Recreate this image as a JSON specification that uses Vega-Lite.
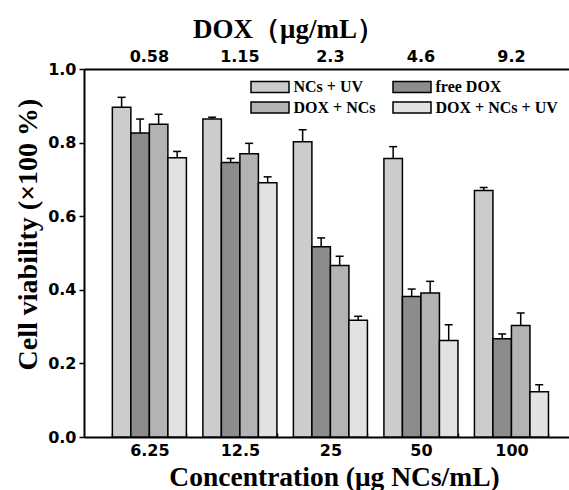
{
  "$schema": "https://vega.github.io/schema/vega-lite/v6.json",
  "width": 485,
  "height": 368,
  "autosize": "none",
  "padding": {"left": 84, "top": 69, "right": 0, "bottom": 53},
  "background": "white",
  "config": {
    "view": {"stroke": null},
    "axis": {
      "domainColor": "black",
      "domainWidth": 2,
      "tickColor": "black",
      "tickWidth": 1.5,
      "labelColor": "black",
      "titleColor": "black",
      "grid": false
    }
  },
  "data": {
    "values": [
      {"conc": "6.25", "group": "NCs + UV", "value": 0.896, "upper": 0.923},
      {"conc": "6.25", "group": "free DOX", "value": 0.826, "upper": 0.864},
      {"conc": "6.25", "group": "DOX + NCs", "value": 0.850, "upper": 0.877},
      {"conc": "6.25", "group": "DOX + NCs + UV", "value": 0.759, "upper": 0.776},
      {"conc": "12.5", "group": "NCs + UV", "value": 0.864, "upper": 0.869},
      {"conc": "12.5", "group": "free DOX", "value": 0.746, "upper": 0.757},
      {"conc": "12.5", "group": "DOX + NCs", "value": 0.770, "upper": 0.798},
      {"conc": "12.5", "group": "DOX + NCs + UV", "value": 0.691, "upper": 0.707},
      {"conc": "25", "group": "NCs + UV", "value": 0.802, "upper": 0.835},
      {"conc": "25", "group": "free DOX", "value": 0.517, "upper": 0.541},
      {"conc": "25", "group": "DOX + NCs", "value": 0.466, "upper": 0.491},
      {"conc": "25", "group": "DOX + NCs + UV", "value": 0.317, "upper": 0.328},
      {"conc": "50", "group": "NCs + UV", "value": 0.757, "upper": 0.789},
      {"conc": "50", "group": "free DOX", "value": 0.382, "upper": 0.402},
      {"conc": "50", "group": "DOX + NCs", "value": 0.391, "upper": 0.423},
      {"conc": "50", "group": "DOX + NCs + UV", "value": 0.262, "upper": 0.305},
      {"conc": "100", "group": "NCs + UV", "value": 0.670, "upper": 0.678},
      {"conc": "100", "group": "free DOX", "value": 0.267, "upper": 0.280},
      {"conc": "100", "group": "DOX + NCs", "value": 0.303, "upper": 0.337},
      {"conc": "100", "group": "DOX + NCs + UV", "value": 0.123, "upper": 0.142}
    ]
  },
  "layer": [
    {
      "mark": {"type": "bar", "stroke": "black", "strokeWidth": 1.5, "strokeOpacity": 1},
      "encoding": {
        "x": {
          "field": "conc", "type": "nominal",
          "sort": ["6.25", "12.5", "25", "50", "100"],
          "scale": {"paddingInner": 0.182, "paddingOuter": 0.27, "align": 0.58},
          "axis": {
            "orient": "bottom",
            "title": "Concentration (μg NCs/mL)",
            "titleFont": "Liberation Serif",
            "titleFontWeight": "bold",
            "titleFontSize": 27.5,
            "titleX": 250,
            "titleY": 48,
            "titleAlign": "center",
            "titleBaseline": "alphabetic",
            "labelFont": "DejaVu Sans",
            "labelFontWeight": "bold",
            "labelFontSize": 16,
            "labelAngle": 0,
            "tickBand": "extent",
            "tickSize": -4,
            "labelPadding": 9
          }
        },
        "xOffset": {
          "field": "group", "type": "nominal",
          "sort": ["NCs + UV", "free DOX", "DOX + NCs", "DOX + NCs + UV"],
          "scale": {"paddingInner": 0, "paddingOuter": 0}
        },
        "y": {
          "field": "value", "type": "quantitative",
          "scale": {"domain": [0, 1], "nice": false},
          "title": "Cell viability (×100 %)",
          "axis": {
            "values": [0, 0.1, 0.2, 0.3, 0.4, 0.5, 0.6, 0.7, 0.8, 0.9, 1.0],
            "labelExpr": "round(datum.value*10)%2==0 ? format(datum.value,'.1f') : ''",
            "tickSize": {"condition": {"test": "round(datum.value*10)%2==1", "value": 3}, "value": 5},
            "labelPadding": 3,
            "labelFont": "DejaVu Sans",
            "labelFontWeight": "bold",
            "labelFontSize": 16,
            "titleFont": "Liberation Serif",
            "titleFontWeight": "bold",
            "titleFontSize": 28,
            "titleX": -48,
            "titleY": 165,
            "titleAngle": -90,
            "titleAlign": "center",
            "titleBaseline": "alphabetic"
          }
        },
        "stroke": {"value": "black"},
        "fill": {
          "field": "group", "type": "nominal",
          "sort": ["NCs + UV", "free DOX", "DOX + NCs", "DOX + NCs + UV"],
          "scale": {
            "domain": ["NCs + UV", "free DOX", "DOX + NCs", "DOX + NCs + UV"],
            "range": ["#cccccc", "#8c8c8c", "#b3b3b3", "#e2e2e2"]
          },
          "legend": {
            "orient": "none",
            "legendX": 175.5,
            "legendY": 7,
            "title": null,
            "columns": 2,
            "direction": "horizontal",
            "symbolType": "M-2,-0.58H2V0.58H-2Z",
            "symbolSize": 361,
            "symbolStrokeColor": "black",
            "symbolStrokeWidth": 1.5,
            "symbolOpacity": 1,
            "labelFont": "Liberation Serif",
            "labelFontWeight": "bold",
            "labelFontSize": 16,
            "labelColor": "black",
            "labelOffset": 13,
            "labelLimit": 300,
            "columnPadding": 13,
            "rowPadding": 1,
            "encode": {
              "symbols": {
                "update": {
                  "stroke": {"value": "black"},
                  "strokeWidth": {"value": 1.5}
                }
              }
            }
          }
        }
      }
    },
    {
      "mark": {"type": "rule", "stroke": "black", "strokeWidth": 1.5},
      "encoding": {
        "x": {"field": "conc", "type": "nominal", "sort": ["6.25", "12.5", "25", "50", "100"], "axis": null},
        "xOffset": {"field": "group", "type": "nominal", "sort": ["NCs + UV", "free DOX", "DOX + NCs", "DOX + NCs + UV"]},
        "y": {"field": "value", "type": "quantitative", "title": "Cell viability (×100 %)"},
        "y2": {"field": "upper"}
      }
    },
    {
      "mark": {"type": "tick", "color": "black", "size": 8, "thickness": 1.5, "opacity": 1},
      "encoding": {
        "x": {
          "field": "conc", "type": "nominal",
          "sort": ["6.25", "12.5", "25", "50", "100"],
          "axis": {
            "orient": "top",
            "title": "DOX（μg/mL）",
            "titleFont": "Liberation Serif",
            "titleFontWeight": "bold",
            "titleFontSize": 27,
            "titleX": 204,
            "titleY": -32,
            "titleAlign": "center",
            "titleBaseline": "alphabetic",
            "labelFont": "DejaVu Sans",
            "labelFontWeight": "bold",
            "labelFontSize": 16,
            "ticks": false,
            "labelAngle": 0,
            "labelPadding": 5,
            "labelExpr": "{'6.25': '0.58', '12.5': '1.15', '25': '2.3', '50': '4.6', '100': '9.2'}[datum.label]"
          }
        },
        "xOffset": {"field": "group", "type": "nominal", "sort": ["NCs + UV", "free DOX", "DOX + NCs", "DOX + NCs + UV"]},
        "y": {"field": "upper", "type": "quantitative", "title": "Cell viability (×100 %)"}
      }
    }
  ],
  "resolve": {"axis": {"x": "independent"}}
}
